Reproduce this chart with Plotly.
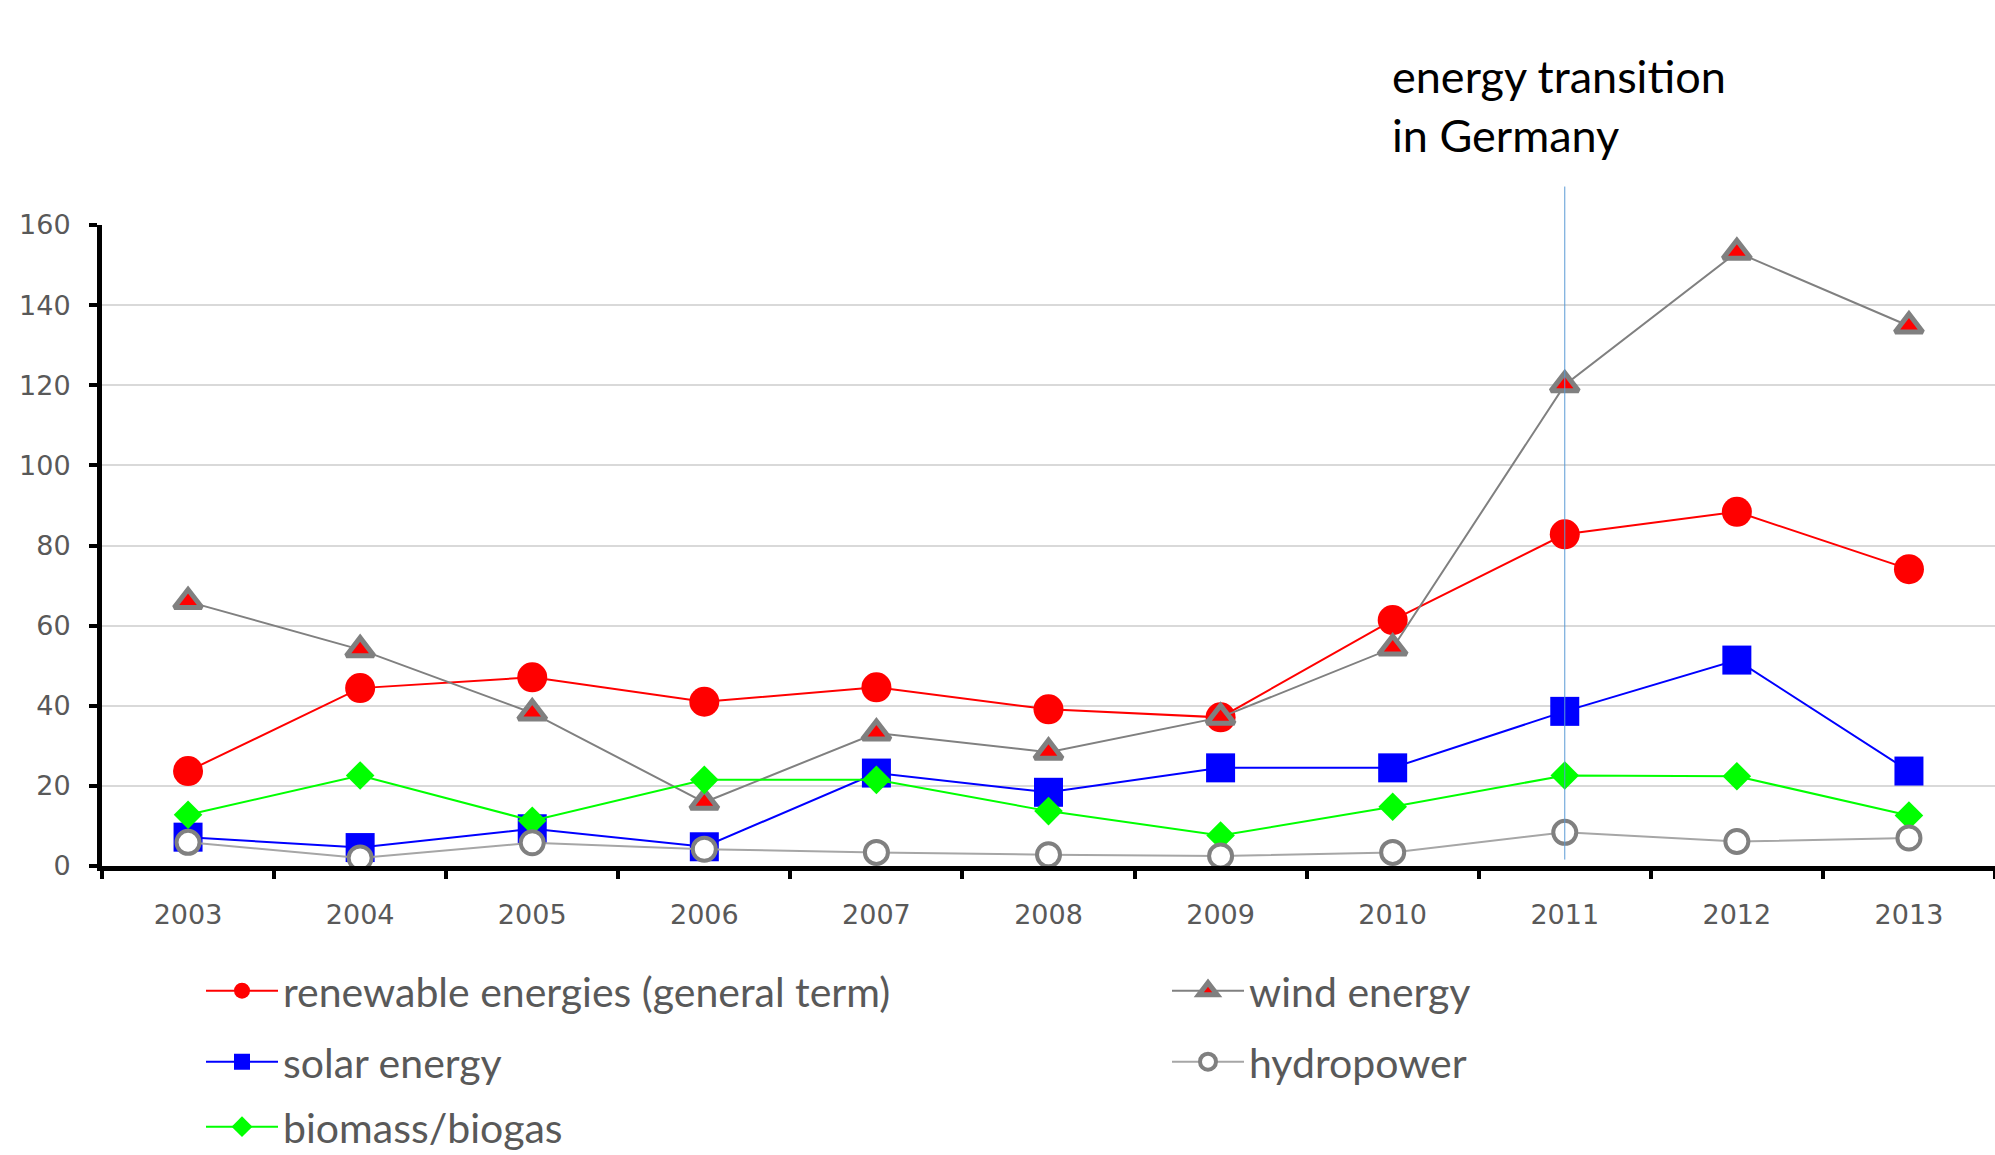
import plotly.graph_objects as go

# Survey years on the category axis
years = ["2003", "2004", "2005", "2006", "2007", "2008", "2009", "2010", "2011", "2012", "2013"]

# Values per topic and year
renewable = [23.7, 44.4, 47.1, 41.0, 44.6, 39.1, 37.1, 61.4, 82.8, 88.4, 74.1]
wind = [66.0, 54.0, 38.2, 15.9, 33.2, 28.4, 37.1, 54.4, 120.1, 153.2, 134.8]
solar = [7.2, 4.6, 9.3, 4.8, 23.2, 18.4, 24.5, 24.5, 38.6, 51.4, 23.7]
biomass = [12.8, 22.6, 11.3, 21.5, 21.5, 13.7, 7.6, 14.8, 22.6, 22.4, 12.6]
hydro = [5.9, 2.0, 5.8, 4.2, 3.4, 2.8, 2.5, 3.4, 8.4, 6.1, 7.0]

y_ticks = [0, 20, 40, 60, 80, 100, 120, 140, 160]
marker_year = "2011"
marker_label = "energy transition<br>in Germany"

W, H = 1995, 1155
TICK_FONT = dict(family="DejaVu Sans", size=27, color="#595959")
LEGEND_FONT = dict(family="Lato", size=41, color="#595959")
ITEM_W = 72

fig = go.Figure()

# Drawing order: renewable, solar, wind, biomass, hydro; each series has its own legend box
fig.add_trace(go.Scatter(
    x=years, y=renewable, name="renewable energies (general term)",
    mode="lines+markers", legend="legend",
    line=dict(color="#ff0000", width=2),
    marker=dict(symbol="circle", size=30, color="#ff0000"),
))
fig.add_trace(go.Scatter(
    x=years, y=solar, name="solar energy",
    mode="lines+markers", legend="legend3",
    line=dict(color="#0000ff", width=2),
    marker=dict(symbol="square", size=29, color="#0000ff"),
))
fig.add_trace(go.Scatter(
    x=years, y=wind, name="wind energy",
    mode="lines+markers", legend="legend2",
    line=dict(color="#808080", width=2),
    marker=dict(symbol="triangle-up", size=24, color="#ff0000",
                line=dict(color="#808080", width=5)),
))
fig.add_trace(go.Scatter(
    x=years, y=biomass, name="biomass/biogas",
    mode="lines+markers", legend="legend5",
    line=dict(color="#00ff00", width=2),
    marker=dict(symbol="diamond", size=22, color="#00ff00"),
))
fig.add_trace(go.Scatter(
    x=years, y=hydro, name="hydropower",
    mode="lines+markers", legend="legend4",
    line=dict(color="#a6a6a6", width=2),
    marker=dict(symbol="circle", size=23, color="#ffffff",
                line=dict(color="#808080", width=4)),
))

# Vertical marker line at the policy year
xi = years.index(marker_year)
fig.add_shape(type="line", xref="x", yref="paper",
              x0=xi, x1=xi, y0=0.01, y1=1.06,
              line=dict(color="#5b9bd5", width=1))

fig.add_annotation(text=marker_label, xref="paper", yref="paper",
                   x=0.6805, y=1.277, xanchor="left", yanchor="top",
                   align="left", showarrow=False,
                   font=dict(family="Lato", size=45, color="#000000"))


def legend_box(x_px, y_px):
    return dict(xref="container", yref="container",
                x=x_px / W, y=1 - y_px / H,
                xanchor="left", yanchor="middle", font=LEGEND_FONT,
                bgcolor="rgba(0,0,0,0)", itemwidth=ITEM_W, borderwidth=0)


col1, col2 = 283 - ITEM_W - 10, 1249 - ITEM_W - 10
row1, row2, row3 = 991, 1062, 1127

fig.update_layout(
    width=W, height=H,
    margin=dict(l=102, r=0, t=225, b=289, autoexpand=False),
    paper_bgcolor="white", plot_bgcolor="white",
    showlegend=True,
    legend=legend_box(col1, row1),
    legend2=legend_box(col2, row1),
    legend3=legend_box(col1, row2),
    legend4=legend_box(col2, row2),
    legend5=legend_box(col1, row3),
    xaxis=dict(
        type="category", range=[-0.5, len(years) - 0.5],
        tickson="boundaries", ticks="outside", ticklen=8, tickwidth=4,
        tickcolor="#000000", showline=True, linecolor="#000000", linewidth=5,
        showgrid=False, tickfont=TICK_FONT, ticklabelstandoff=21,
        tickangle=0, automargin=False,
    ),
    yaxis=dict(
        range=[0, 160], tickvals=y_ticks, ticks="outside", ticklen=8,
        tickwidth=4, tickcolor="#000000", showline=True, linecolor="#000000",
        linewidth=5, showgrid=True, gridcolor="#d9d9d9", gridwidth=2,
        zeroline=False, tickfont=TICK_FONT, ticklabelstandoff=13,
        automargin=False,
    ),
)

fig.write_html("out.html")
